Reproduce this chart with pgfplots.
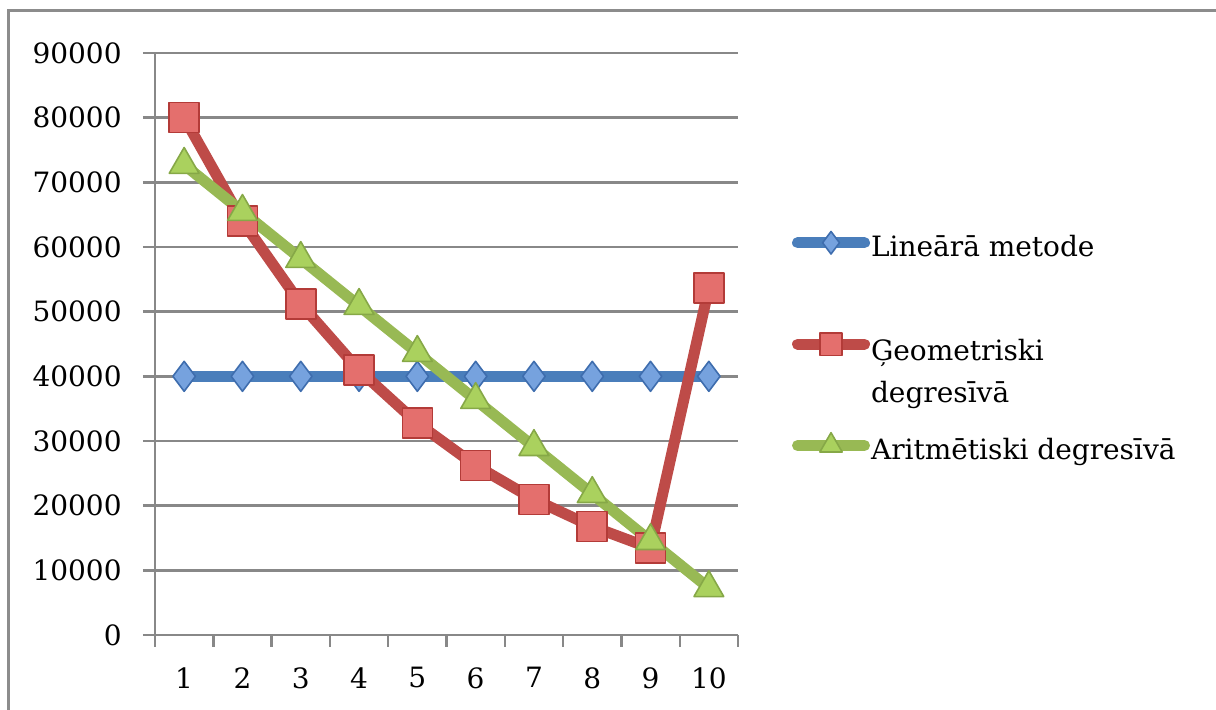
\documentclass[border=0pt]{standalone}
\usepackage{fontspec}
\setmainfont{DejaVu Serif}
\usepackage{pgfplots}
\pgfplotsset{compat=1.18}
\definecolor{gridgray}{HTML}{888888}
\definecolor{frameg}{HTML}{8C8C8C}
\definecolor{bline}{HTML}{4A7EBB}
\definecolor{bfill}{HTML}{76A2DE}
\definecolor{bdraw}{HTML}{3E6DAE}
\definecolor{rline}{HTML}{BE4B48}
\definecolor{rfill}{HTML}{E46F6D}
\definecolor{rdraw}{HTML}{B33B38}
\definecolor{gline}{HTML}{98B954}
\definecolor{gfill}{HTML}{AAD15E}
\definecolor{gdraw}{HTML}{86A847}
\newcommand{\onel}[1]{\raisebox{0pt}[15pt][5pt]{#1}}
\newcommand{\twol}[2]{\raisebox{0pt}[18pt][2pt]{\vtop{\hbox{#1}\kern4.5pt\hbox{#2}}}}
\begin{document}
\begin{tikzpicture}
\useasboundingbox (0,0) rectangle (608pt,355pt);
\draw[frameg, line width=1.5pt] (4pt,-5pt) -- (4pt,349.5pt) -- (615pt,349.5pt);
\begin{axis}[
  scale only axis, width=291.5pt, height=291pt,
  at={(77.5pt,37.5pt)}, anchor=south west,
  font=\fontsize{14}{16.5}\selectfont,
  /pgf/number format/assume math mode=true,
  xmin=0.5, xmax=10.5, ymin=0, ymax=90000,
  axis x line=bottom, axis y line=left,
  axis line style={-, draw=gridgray, line width=1.2pt},
  xtick={0.5,1.5,...,10.5}, xticklabels={},
  extra x ticks={1,2,3,4,5,6,7,8,9,10},
  extra x tick labels={1,2,3,4,5,6,7,8,9,10},
  extra x tick style={major tick length=0pt, grid=none},
  ytick={0,10000,...,90000},
  scaled y ticks=false,
  yticklabel style={/pgf/number format/fixed, /pgf/number format/1000 sep={}, inner sep=0pt, xshift=-10.5pt},
  xticklabel style={inner sep=0pt, yshift=-16pt},
  ymajorgrids, grid style={gridgray, line width=1.2pt},
  tick align=outside, major tick length=6pt,
  tick style={gridgray, line width=1.2pt},
  legend cell align=left,
  legend style={at={(1.092,0.703)}, anchor=north west, draw=none, fill=none,
    inner sep=0pt, /tikz/row sep=32.7pt, /tikz/column sep=0.5pt,
    font=\fontsize{14}{16.5}\selectfont,
    nodes={inner sep=0pt}},
  legend image code/.code={
    \draw[line cap=round, mark=none] (0pt,0pt) -- (33.5pt,0pt);
    \draw[/tikz/every mark/.append style={scale=0.75}] plot coordinates {(16.75pt,0pt)};
  },
]
\addplot[bline, line width=5.5pt, line join=round, mark=diamond*, mark size=7.5pt,
  mark options={fill=bfill, draw=bdraw, line width=0.8pt}]
  coordinates {(1,40000)(2,40000)(3,40000)(4,40000)(5,40000)(6,40000)(7,40000)(8,40000)(9,40000)(10,40000)};
\addlegendentry{\onel{Lineārā metode}}
\addplot[rline, line width=5.5pt, line join=round, mark=square*, mark size=7.5pt,
  mark options={fill=rfill, draw=rdraw, line width=0.8pt}]
  coordinates {(1,80000)(2,64000)(3,51200)(4,40960)(5,32768)(6,26214)(7,20972)(8,16777)(9,13422)(10,53687)};
\addlegendentry{\twol{Ģeometriski}{degresīvā}}
\addplot[gline, line width=5.5pt, line join=round, mark=triangle*, mark size=8.6pt,
  mark options={fill=gfill, draw=gdraw, line width=0.8pt}]
  coordinates {(1,72727)(2,65455)(3,58182)(4,50909)(5,43636)(6,36364)(7,29091)(8,21818)(9,14545)(10,7273)};
\addlegendentry{\onel{Aritmētiski degresīvā}}
\end{axis}
\end{tikzpicture}
\end{document}
